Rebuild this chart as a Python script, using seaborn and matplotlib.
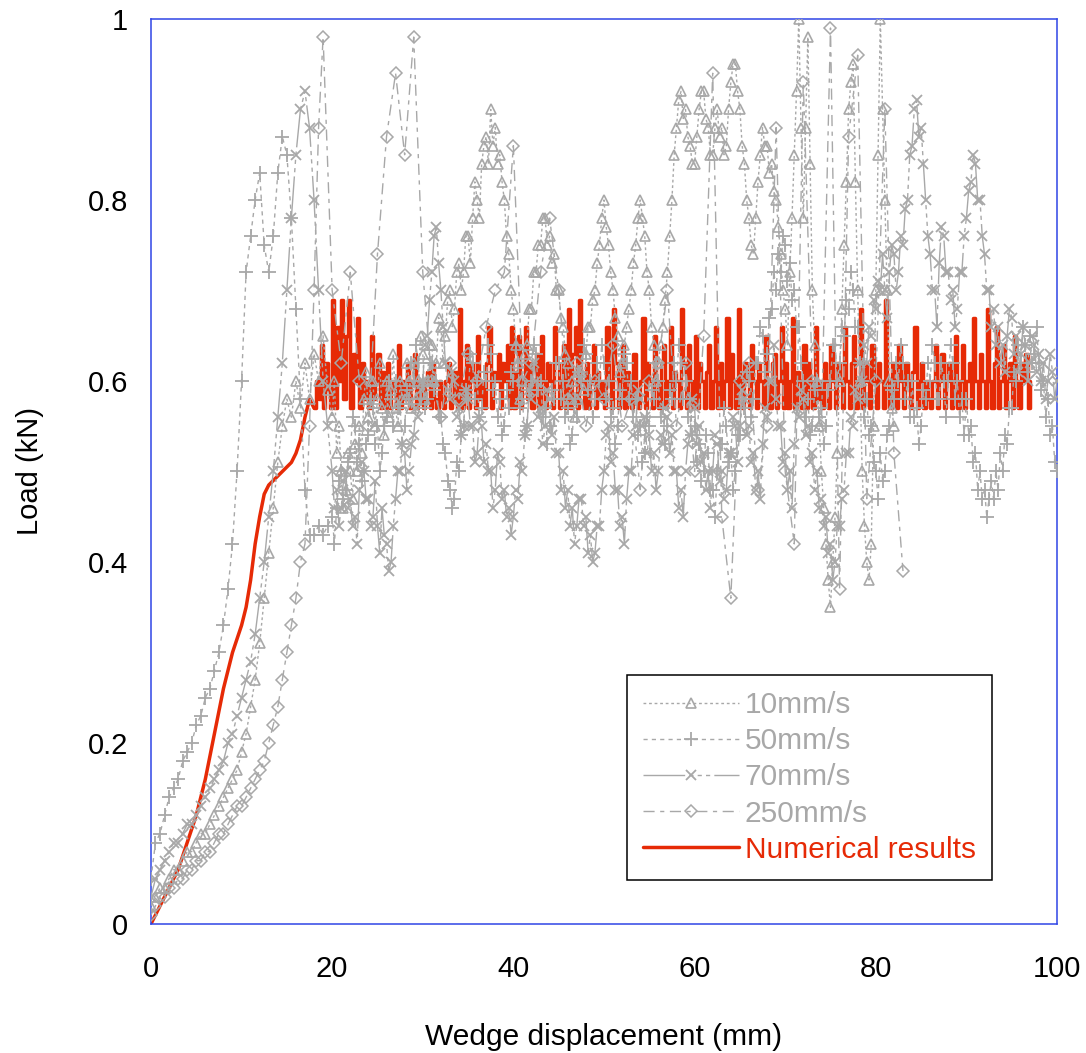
import numpy as np
import matplotlib
matplotlib.use('Agg')
import matplotlib.pyplot as plt
from matplotlib.ticker import MultipleLocator
import seaborn as sns

# ---- data (displacement in mm, load in kN) ----
# 10 mm/s: 0.5 mm readings up to 19.5 mm, 0.25 mm readings from 20 mm
x_10 = np.concatenate([np.arange(0, 19.51, 0.5), np.arange(20, 82.01, 0.25)])
load_10 = [0.02, 0.03, 0.04, 0.04, 0.05, 0.06, 0.06, 0.07, 0.08, 0.08, 0.09,
           0.10, 0.10, 0.11, 0.12, 0.13, 0.14, 0.15, 0.16, 0.17, 0.19,
           0.21, 0.24, 0.27, 0.31, 0.36, 0.41, 0.46, 0.51,
           0.55, 0.58, 0.56, 0.60, 0.57, 0.62,
           0.58, 0.63, 0.60, 0.65, 0.59,
           0.56, 0.60, 0.52, 0.55, 0.50, 0.46, 0.48, 0.52,
           0.50, 0.47, 0.53, 0.50, 0.55, 0.52, 0.58, 0.61,
           0.56, 0.60, 0.60, 0.55, 0.58, 0.62, 0.57, 0.54,
           0.60, 0.56, 0.59, 0.63, 0.57, 0.55, 0.60, 0.58,
           0.58, 0.62, 0.60, 0.57, 0.62, 0.58, 0.60, 0.65,
           0.63, 0.58, 0.60, 0.64, 0.64, 0.60, 0.62, 0.67,
           0.66, 0.62, 0.65, 0.69, 0.70, 0.66, 0.68, 0.72,
           0.73, 0.70, 0.72, 0.76, 0.76, 0.73, 0.78, 0.82,
           0.80, 0.78, 0.84, 0.86, 0.87, 0.84, 0.90, 0.86,
           0.88, 0.84, 0.85, 0.82, 0.80, 0.76, 0.74, 0.70,
           0.68, 0.64, 0.62, 0.58, 0.60, 0.63, 0.64, 0.68,
           0.68, 0.72, 0.72, 0.75, 0.75, 0.78, 0.78, 0.75,
           0.76, 0.73, 0.74, 0.70, 0.70, 0.67, 0.66, 0.63,
           0.62, 0.58, 0.60, 0.56, 0.58, 0.61, 0.61, 0.59,
           0.63, 0.66, 0.66, 0.69, 0.70, 0.73, 0.75, 0.78,
           0.80, 0.77, 0.75, 0.72, 0.70, 0.67, 0.65, 0.61,
           0.62, 0.64, 0.66, 0.68, 0.70, 0.73, 0.75, 0.78,
           0.80, 0.78, 0.76, 0.72, 0.70, 0.66, 0.64, 0.60,
           0.62, 0.64, 0.66, 0.69, 0.72, 0.76, 0.80, 0.85,
           0.88, 0.91, 0.92, 0.89, 0.90, 0.87, 0.86, 0.84,
           0.84, 0.87, 0.90, 0.92, 0.92, 0.89, 0.88, 0.85,
           0.85, 0.88, 0.90, 0.87, 0.88, 0.85, 0.86, 0.90,
           0.93, 0.95, 0.95, 0.92, 0.90, 0.86, 0.84, 0.80,
           0.78, 0.75, 0.74, 0.78, 0.82, 0.85, 0.88, 0.86,
           0.86, 0.83, 0.84, 0.81, 0.80, 0.77, 0.74, 0.70,
           0.68, 0.64, 0.72, 0.78, 0.85, 0.92, 1.00, 0.88,
           0.78, 0.88, 0.98, 0.84, 0.70, 0.64, 0.60, 0.55,
           0.50, 0.46, 0.42, 0.38, 0.35, 0.40, 0.45, 0.52,
           0.60, 0.68, 0.75, 0.82, 0.90, 0.93, 0.95, 0.82,
           0.70, 0.60, 0.50, 0.44, 0.40, 0.38, 0.42, 0.55,
           0.70, 0.85, 1.00, 0.90, 0.80, 0.70, 0.60, 0.57,
           0.55]

# 50 mm/s
x_50 = np.concatenate([np.arange(0, 19.51, 0.5), np.arange(20, 100.01, 0.25)])
load_50 = [0.05, 0.09, 0.10, 0.12, 0.14, 0.15, 0.16, 0.18, 0.19, 0.20, 0.22,
           0.23, 0.25, 0.26, 0.28, 0.30, 0.33, 0.37, 0.42, 0.50, 0.60,
           0.72, 0.76, 0.80, 0.83, 0.75, 0.72, 0.76, 0.83, 0.87, 0.85,
           0.78, 0.68, 0.58, 0.48, 0.43, 0.43, 0.44, 0.43, 0.44,
           0.45, 0.42, 0.46, 0.49, 0.50, 0.47, 0.48, 0.51,
           0.52, 0.56, 0.55, 0.51, 0.53, 0.49, 0.50, 0.53,
           0.54, 0.58, 0.57, 0.53, 0.55, 0.50, 0.52, 0.55,
           0.56, 0.60, 0.58, 0.55, 0.60, 0.57, 0.57, 0.53,
           0.55, 0.59, 0.58, 0.62, 0.60, 0.64, 0.62, 0.58,
           0.60, 0.57, 0.58, 0.62, 0.62, 0.59, 0.60, 0.56,
           0.56, 0.53, 0.52, 0.49, 0.48, 0.46, 0.47, 0.51,
           0.50, 0.54, 0.55, 0.59, 0.58, 0.63, 0.62, 0.58,
           0.60, 0.56, 0.57, 0.61, 0.60, 0.64, 0.63, 0.59,
           0.60, 0.56, 0.58, 0.54, 0.55, 0.59, 0.57, 0.61,
           0.60, 0.64, 0.62, 0.57, 0.58, 0.54, 0.55, 0.59,
           0.60, 0.64, 0.63, 0.59, 0.60, 0.56, 0.57, 0.53,
           0.55, 0.59, 0.58, 0.62, 0.62, 0.58, 0.60, 0.56,
           0.57, 0.53, 0.54, 0.58, 0.56, 0.61, 0.60, 0.64,
           0.63, 0.59, 0.60, 0.56, 0.58, 0.62, 0.60, 0.64,
           0.62, 0.58, 0.60, 0.56, 0.57, 0.53, 0.55, 0.59,
           0.58, 0.63, 0.62, 0.58, 0.60, 0.56, 0.58, 0.54,
           0.55, 0.51, 0.52, 0.56, 0.55, 0.59, 0.58, 0.62,
           0.60, 0.56, 0.57, 0.53, 0.55, 0.59, 0.58, 0.62,
           0.60, 0.64, 0.62, 0.58, 0.60, 0.56, 0.58, 0.54,
           0.55, 0.51, 0.53, 0.49, 0.50, 0.54, 0.52, 0.48,
           0.48, 0.45, 0.50, 0.53, 0.53, 0.57, 0.55, 0.51,
           0.52, 0.48, 0.50, 0.54, 0.54, 0.58, 0.57, 0.61,
           0.60, 0.56, 0.58, 0.62, 0.62, 0.66, 0.65, 0.61,
           0.63, 0.67, 0.68, 0.72, 0.70, 0.74, 0.72, 0.76,
           0.75, 0.71, 0.73, 0.69, 0.70, 0.66, 0.66, 0.62,
           0.60, 0.56, 0.58, 0.54, 0.55, 0.59, 0.60, 0.56,
           0.57, 0.53, 0.55, 0.59, 0.60, 0.64, 0.64, 0.60,
           0.62, 0.66, 0.65, 0.69, 0.68, 0.72, 0.70, 0.66,
           0.66, 0.62, 0.60, 0.56, 0.58, 0.54, 0.55, 0.51,
           0.50, 0.47, 0.52, 0.49, 0.50, 0.54, 0.55, 0.59,
           0.58, 0.62, 0.60, 0.64, 0.62, 0.58, 0.60, 0.56,
           0.60, 0.56, 0.57, 0.53, 0.55, 0.59, 0.58, 0.62,
           0.60, 0.64, 0.62, 0.58, 0.58, 0.62, 0.60, 0.56,
           0.60, 0.64, 0.62, 0.58, 0.60, 0.56, 0.58, 0.54,
           0.58, 0.54, 0.55, 0.51, 0.52, 0.48, 0.50, 0.47,
           0.48, 0.45, 0.47, 0.49, 0.47, 0.50, 0.48, 0.52,
           0.50, 0.54, 0.53, 0.57, 0.57, 0.61, 0.60, 0.64,
           0.62, 0.66, 0.64, 0.61, 0.65, 0.62, 0.63, 0.66,
           0.62, 0.59, 0.60, 0.56, 0.58, 0.54, 0.55, 0.51,
           0.50]

# 70 mm/s
x_70 = np.concatenate([np.arange(0, 19.51, 0.5), np.arange(20, 100.01, 0.25)])
load_70 = [0.03, 0.05, 0.06, 0.07, 0.08, 0.09, 0.09, 0.10, 0.11, 0.11, 0.12,
           0.13, 0.14, 0.15, 0.16, 0.17, 0.18, 0.20, 0.21, 0.23, 0.25,
           0.27, 0.29, 0.32, 0.36, 0.40, 0.45, 0.50, 0.56, 0.62, 0.70,
           0.78, 0.85, 0.90, 0.92, 0.88, 0.80, 0.70, 0.60, 0.55,
           0.50, 0.46, 0.48, 0.44, 0.46, 0.49, 0.50, 0.46,
           0.47, 0.44, 0.45, 0.42, 0.48, 0.51, 0.50, 0.47,
           0.47, 0.44, 0.45, 0.49, 0.44, 0.41, 0.46, 0.43,
           0.42, 0.39, 0.40, 0.44, 0.47, 0.50, 0.50, 0.53,
           0.52, 0.48, 0.50, 0.53, 0.54, 0.57, 0.56, 0.59,
           0.60, 0.64, 0.65, 0.69, 0.72, 0.76, 0.77, 0.73,
           0.70, 0.66, 0.62, 0.59, 0.58, 0.61, 0.60, 0.56,
           0.57, 0.54, 0.55, 0.59, 0.58, 0.55, 0.55, 0.51,
           0.52, 0.56, 0.55, 0.51, 0.53, 0.50, 0.50, 0.46,
           0.48, 0.52, 0.51, 0.47, 0.48, 0.45, 0.46, 0.43,
           0.45, 0.48, 0.47, 0.51, 0.50, 0.54, 0.55, 0.59,
           0.58, 0.62, 0.60, 0.56, 0.57, 0.53, 0.55, 0.59,
           0.58, 0.54, 0.56, 0.52, 0.52, 0.48, 0.50, 0.46,
           0.48, 0.44, 0.46, 0.42, 0.44, 0.47, 0.47, 0.44,
           0.45, 0.41, 0.43, 0.40, 0.41, 0.44, 0.44, 0.48,
           0.50, 0.54, 0.55, 0.51, 0.52, 0.48, 0.48, 0.44,
           0.45, 0.42, 0.47, 0.50, 0.50, 0.54, 0.55, 0.59,
           0.58, 0.55, 0.56, 0.52, 0.54, 0.50, 0.52, 0.48,
           0.50, 0.54, 0.53, 0.57, 0.56, 0.52, 0.54, 0.50,
           0.50, 0.46, 0.48, 0.45, 0.50, 0.53, 0.54, 0.58,
           0.57, 0.53, 0.55, 0.51, 0.52, 0.48, 0.50, 0.46,
           0.50, 0.54, 0.53, 0.49, 0.50, 0.47, 0.48, 0.52,
           0.52, 0.56, 0.55, 0.51, 0.55, 0.59, 0.58, 0.54,
           0.55, 0.51, 0.52, 0.48, 0.50, 0.47, 0.53, 0.57,
           0.56, 0.60, 0.60, 0.64, 0.58, 0.55, 0.55, 0.51,
           0.52, 0.48, 0.50, 0.46, 0.53, 0.57, 0.56, 0.59,
           0.58, 0.54, 0.55, 0.51, 0.52, 0.48, 0.50, 0.46,
           0.47, 0.44, 0.45, 0.41, 0.42, 0.38, 0.40, 0.44,
           0.44, 0.47, 0.48, 0.52, 0.52, 0.56, 0.55, 0.59,
           0.58, 0.62, 0.60, 0.64, 0.62, 0.66, 0.65, 0.69,
           0.68, 0.71, 0.70, 0.74, 0.70, 0.67, 0.72, 0.75,
           0.74, 0.70, 0.72, 0.76, 0.75, 0.79, 0.80, 0.85,
           0.86, 0.90, 0.91, 0.87, 0.88, 0.84, 0.80, 0.76,
           0.74, 0.70, 0.70, 0.66, 0.73, 0.77, 0.76, 0.72,
           0.72, 0.69, 0.70, 0.66, 0.68, 0.72, 0.72, 0.76,
           0.78, 0.81, 0.82, 0.85, 0.84, 0.80, 0.80, 0.76,
           0.74, 0.70, 0.70, 0.66, 0.68, 0.64, 0.66, 0.62,
           0.64, 0.61, 0.65, 0.68, 0.67, 0.63, 0.65, 0.61,
           0.63, 0.66, 0.64, 0.60, 0.62, 0.65, 0.64, 0.61,
           0.63, 0.60, 0.62, 0.58, 0.60, 0.63, 0.61, 0.58,
           0.60]

# 250 mm/s (sparser sampling after 19 mm)
x_250 = np.concatenate([np.arange(0, 19.01, 0.5), np.arange(20, 83.01, 1.0)])
load_250 = [0.01, 0.02, 0.03, 0.03, 0.04, 0.04, 0.05, 0.05, 0.06, 0.06,
            0.07, 0.07, 0.08, 0.08, 0.09, 0.10, 0.10, 0.11, 0.12, 0.13,
            0.13, 0.14, 0.15, 0.16, 0.17, 0.18, 0.20, 0.22, 0.24, 0.27,
            0.30, 0.33, 0.36, 0.40, 0.42, 0.55, 0.70, 0.88, 0.98,
            0.70, 0.62, 0.72, 0.60, 0.55, 0.74, 0.87, 0.94, 0.85, 0.98,
            0.72, 0.60, 0.56, 0.62, 0.58, 0.63, 0.60, 0.66, 0.70, 0.72,
            0.86, 0.60, 0.62, 0.72, 0.78, 0.70, 0.58, 0.62, 0.55, 0.60,
            0.58, 0.64, 0.55, 0.58, 0.48, 0.60, 0.62, 0.70, 0.55, 0.62,
            0.50, 0.65, 0.94, 0.45, 0.36, 0.60, 0.62, 0.48, 0.55, 0.88,
            0.50, 0.42, 0.93, 0.60, 0.55, 0.99, 0.37, 0.87, 0.96, 0.47,
            0.60, 0.90, 0.52, 0.39]

# numerical model
x_num = np.concatenate([np.arange(0, 17.51, 0.5), np.arange(18, 97.01, 0.25)])
load_num = [0.00, 0.01, 0.02, 0.03, 0.04, 0.05, 0.06, 0.075, 0.09, 0.105, 0.12,
            0.14, 0.16, 0.185, 0.21, 0.235, 0.26, 0.28, 0.30, 0.315, 0.33,
            0.35, 0.38, 0.42, 0.45, 0.475, 0.485, 0.49, 0.495, 0.50, 0.505,
            0.51, 0.52, 0.535, 0.56, 0.58,
            0.57, 0.60, 0.58, 0.64, 0.57, 0.62, 0.59, 0.57,
            0.69, 0.57, 0.66, 0.60, 0.69, 0.58, 0.65, 0.69,
            0.57, 0.63, 0.60, 0.67, 0.57, 0.62, 0.58, 0.60,
            0.57, 0.65, 0.58, 0.60, 0.63, 0.57, 0.61, 0.57,
            0.62, 0.57, 0.59, 0.60, 0.57, 0.64, 0.57, 0.60,
            0.58, 0.62, 0.57, 0.60, 0.63, 0.57, 0.60, 0.58,
            0.57, 0.60, 0.61, 0.57, 0.62, 0.58, 0.57, 0.60,
            0.58, 0.57, 0.60, 0.62, 0.57, 0.58, 0.61, 0.57,
            0.68, 0.57, 0.60, 0.64, 0.57, 0.62, 0.60, 0.57,
            0.65, 0.58, 0.60, 0.57, 0.62, 0.66, 0.57, 0.61,
            0.60, 0.63, 0.57, 0.62, 0.60, 0.64, 0.57, 0.66,
            0.57, 0.61, 0.65, 0.57, 0.60, 0.66, 0.58, 0.62,
            0.57, 0.60, 0.63, 0.57, 0.65, 0.60, 0.57, 0.62,
            0.60, 0.57, 0.66, 0.62, 0.57, 0.60, 0.64, 0.57,
            0.68, 0.57, 0.63, 0.66, 0.57, 0.69, 0.60, 0.57,
            0.62, 0.57, 0.60, 0.64, 0.57, 0.61, 0.58, 0.60,
            0.57, 0.66, 0.60, 0.57, 0.68, 0.62, 0.57, 0.60,
            0.64, 0.57, 0.61, 0.60, 0.57, 0.63, 0.58, 0.57,
            0.60, 0.67, 0.57, 0.62, 0.60, 0.57, 0.65, 0.60,
            0.57, 0.62, 0.64, 0.57, 0.60, 0.66, 0.57, 0.61,
            0.60, 0.57, 0.68, 0.62, 0.57, 0.64, 0.60, 0.57,
            0.65, 0.57, 0.62, 0.60, 0.57, 0.61, 0.64, 0.57,
            0.60, 0.66, 0.57, 0.62, 0.57, 0.60, 0.67, 0.57,
            0.63, 0.60, 0.57, 0.68, 0.60, 0.57, 0.62, 0.60,
            0.57, 0.64, 0.60, 0.57, 0.62, 0.60, 0.57, 0.65,
            0.60, 0.57, 0.62, 0.63, 0.57, 0.60, 0.66, 0.57,
            0.62, 0.57, 0.60, 0.67, 0.57, 0.61, 0.60, 0.57,
            0.64, 0.57, 0.62, 0.60, 0.57, 0.66, 0.58, 0.60,
            0.57, 0.62, 0.60, 0.57, 0.64, 0.60, 0.57, 0.62,
            0.60, 0.57, 0.66, 0.60, 0.57, 0.62, 0.65, 0.57,
            0.60, 0.68, 0.57, 0.62, 0.60, 0.57, 0.64, 0.60,
            0.57, 0.62, 0.60, 0.57, 0.69, 0.60, 0.57, 0.62,
            0.60, 0.57, 0.64, 0.60, 0.57, 0.62, 0.60, 0.57,
            0.61, 0.66, 0.57, 0.60, 0.62, 0.57, 0.60, 0.58,
            0.57, 0.60, 0.64, 0.57, 0.60, 0.63, 0.57, 0.60,
            0.62, 0.57, 0.60, 0.65, 0.57, 0.60, 0.64, 0.57,
            0.60, 0.62, 0.57, 0.67, 0.60, 0.57, 0.63, 0.60,
            0.57, 0.68, 0.60, 0.57, 0.62, 0.66, 0.57, 0.60,
            0.64, 0.57, 0.60, 0.62, 0.57, 0.65, 0.60, 0.57,
            0.62, 0.60, 0.63, 0.57, 0.60]

labels = ['10mm/s', '50mm/s', '70mm/s', '250mm/s', 'Numerical results']

gray = '#a8a8a8'
red = '#e62a06'
blue = '#2f45e6'

sns.set_style('white')
plt.rcParams['font.family'] = ['Liberation Sans', 'DejaVu Sans']

fig = plt.figure(figsize=(10.86, 10.53), dpi=100)
ax = fig.add_axes([0.139, 0.1225, 0.8343, 0.8595])

# numerical result under the measured curves: smooth rise, then stepped plateau
n_rise = 37
load_num = np.array(load_num)
sns.lineplot(x=x_num[:n_rise], y=load_num[:n_rise], ax=ax, color=red, lw=2.5,
             estimator=None, sort=False, zorder=2)
sns.lineplot(x=x_num[n_rise - 1:], y=load_num[n_rise - 1:], ax=ax, color=red, lw=2.5,
             estimator=None, sort=False, drawstyle='steps-post', zorder=2)

sns.lineplot(x=x_10, y=load_10, ax=ax, color=gray, lw=1.0, estimator=None,
             linestyle=(0, (2, 2)), marker='^', markersize=7,
             markerfacecolor='none', markeredgecolor=gray, markeredgewidth=1.2, zorder=3)
sns.lineplot(x=x_50, y=load_50, ax=ax, color=gray, lw=1.0, estimator=None,
             linestyle=(0, (3, 3)), marker='+', markersize=9.5,
             markeredgecolor=gray, markeredgewidth=1.3, zorder=3)
sns.lineplot(x=x_70, y=load_70, ax=ax, color=gray, lw=1.0, estimator=None,
             linestyle=(0, (30, 3, 3, 3, 3, 3, 3, 3)), marker='x', markersize=7.5,
             markeredgecolor=gray, markeredgewidth=1.3, zorder=3)
sns.lineplot(x=x_250, y=load_250, ax=ax, color=gray, lw=1.0, estimator=None,
             linestyle=(0, (8, 4, 3, 4)), marker='D', markersize=6,
             markerfacecolor='none', markeredgecolor=gray, markeredgewidth=1.1, zorder=3)

lines = ax.get_lines()
handles = [lines[2], lines[3], lines[4], lines[5], lines[1]]

ax.set_xlim(0, 100)
ax.set_ylim(0, 1)
ax.xaxis.set_major_locator(MultipleLocator(20))
ax.xaxis.set_minor_locator(MultipleLocator(10))
ax.yaxis.set_minor_locator(MultipleLocator(0.1))
ax.set_yticks([0, 0.2, 0.4, 0.6, 0.8, 1.0])
ax.set_yticklabels(['0', '0.2', '0.4', '0.6', '0.8', '1'])

for s in ax.spines.values():
    s.set_color(blue)
    s.set_linewidth(1.1)
ax.tick_params(which='both', direction='in', color=blue, width=1.1,
               top=False, right=False, labelsize=21, labelcolor='black')
ax.tick_params(which='major', length=11)
ax.tick_params(which='minor', length=6)
ax.tick_params(axis='x', which='major', pad=22)
ax.tick_params(axis='y', which='major', pad=16.5)

ax.set_xlabel('Wedge displacement (mm)', fontsize=21.5, color='black')
ax.set_ylabel('Load (kN)', fontsize=21, color='black')
ax.xaxis.set_label_coords(0.5, -0.109)
ax.yaxis.set_label_coords(-0.118, 0.5)

leg = ax.legend(handles, labels, loc='lower left', bbox_to_anchor=(0.525, 0.0486),
                frameon=True, fancybox=False, edgecolor='black', framealpha=1,
                fontsize=21.5, handlelength=3.2, handletextpad=0.2,
                labelspacing=0.27, borderpad=0.55, borderaxespad=0,
                labelcolor='linecolor', numpoints=1)
leg.get_frame().set_linewidth(1.1)

fig.savefig('out.png', dpi=100)
